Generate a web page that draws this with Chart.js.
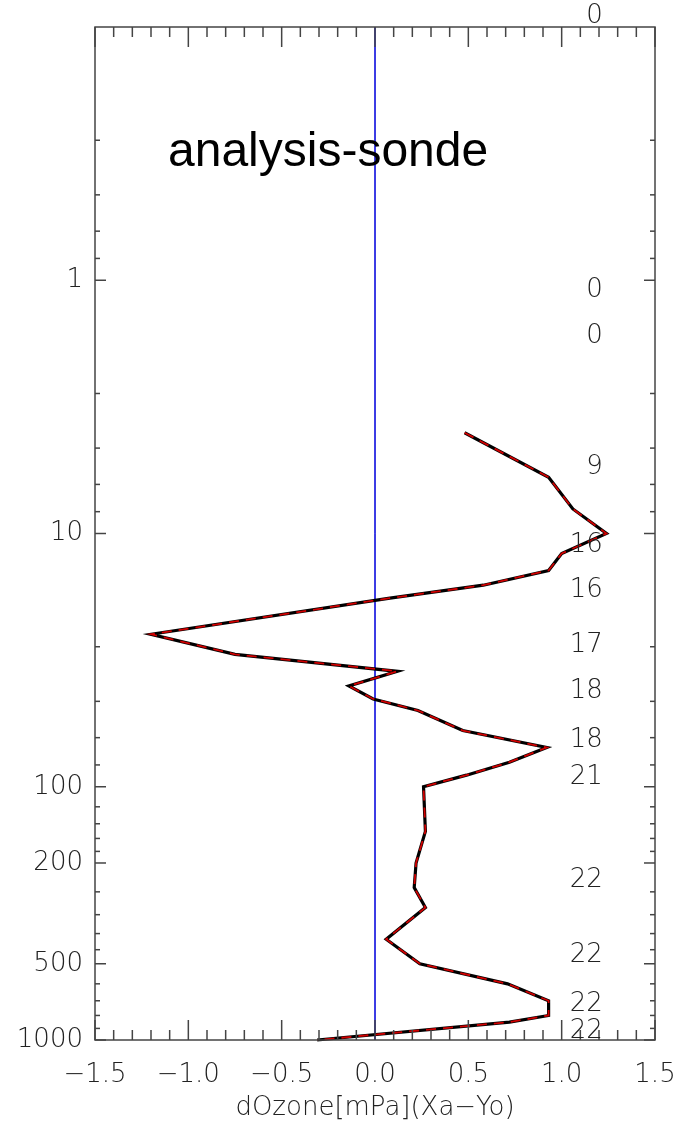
<!DOCTYPE html>
<html>
<head>
<meta charset="utf-8">
<script src="https://cdn.jsdelivr.net/npm/chart.js@4/dist/chart.umd.min.js"></script>
<style>
  html, body { margin: 0; padding: 0; background: #fff; }
  canvas { display: block; }
</style>
</head>
<body>
<canvas id="c" width="685" height="1126"></canvas>
<script>
/* профиль: давление [гПа] и разность озона analysis-sonde */
const pressure = [4, 6, 8, 10, 12, 14, 16, 18, 25, 30, 35, 40, 45, 50, 60, 70, 80, 90, 100,
                  150, 200, 250, 300, 400, 500, 600, 700, 800, 850, 1000];
const dOzone   = [0.48, 0.93, 1.06, 1.24, 1.00, 0.93, 0.58, 0.08, -1.20, -0.75, 0.12, -0.14, -0.01, 0.23,
                  0.47, 0.92, 0.72, 0.49, 0.26, 0.27, 0.22, 0.21, 0.27, 0.06, 0.24, 0.71, 0.93, 0.93, 0.72, -0.31];

/* число зондов на уровнях (подписи справа) */
const countLevels = [0.091, 1.1, 1.66, 5.5, 11.1, 16.7, 27.7, 41.8, 65.8, 92, 233, 461, 721, 921];
const counts      = [0, 0, 0, 9, 16, 16, 17, 18, 18, 21, 22, 22, 22, 22];

/* деления осей */
const yMajor = [1, 10, 100, 200, 500, 1000];
const yMinor = [0.28, 0.46, 0.64, 0.82, 2.8, 4.6, 6.4, 8.2, 28, 46, 64, 82,
                120, 140, 160, 180, 260, 320, 380, 440, 600, 700, 800, 900];
const xMajor = [-1.5, -1.0, -0.5, 0.0, 0.5, 1.0, 1.5];

const AXIS = '#444';
const TXT  = '#222';
const THIN = { family: '"DejaVu Sans", sans-serif', size: 26, weight: 200 };

const profile = pressure.map((p, i) => ({ x: dOzone[i], y: p }));

/* рамка, внутренние засечки, подписи */
const decor = {
  id: 'decor',
  afterDraw(chart) {
    const { ctx, chartArea: a, scales: { x, y } } = chart;
    ctx.save();
    ctx.strokeStyle = AXIS;
    ctx.lineWidth = 1.5;
    ctx.strokeRect(a.left, a.top, a.right - a.left, a.bottom - a.top);
    const line = (x1, y1, x2, y2) => { ctx.beginPath(); ctx.moveTo(x1, y1); ctx.lineTo(x2, y2); ctx.stroke(); };

    for (let k = -15; k <= 15; k++) {
      const px = x.getPixelForValue(k / 10);
      const len = k % 5 === 0 ? 20 : 10;
      line(px, a.bottom, px, a.bottom - len);
      line(px, a.top, px, a.top + len);
    }
    yMajor.forEach(v => {
      const py = y.getPixelForValue(v);
      line(a.left, py, a.left + 11, py);
      line(a.right, py, a.right - 11, py);
    });
    yMinor.forEach(v => {
      const py = y.getPixelForValue(v);
      line(a.left, py, a.left + 5, py);
      line(a.right, py, a.right - 5, py);
    });

    ctx.fillStyle = TXT;
    ctx.font = '200 26px "DejaVu Sans", sans-serif';
    ctx.textAlign = 'right';
    ctx.textBaseline = 'middle';
    const cx = x.getPixelForValue(1.22);
    countLevels.forEach((p, i) => ctx.fillText(String(counts[i]), cx, y.getPixelForValue(p)));

    ctx.fillStyle = '#000';
    ctx.font = '48px "Liberation Sans", Arial, sans-serif';
    ctx.textAlign = 'left';
    ctx.textBaseline = 'alphabetic';
    ctx.fillText('analysis-sonde', a.left + 73, a.top + 139);
    ctx.restore();
  }
};

new Chart(document.getElementById('c'), {
  type: 'scatter',
  data: {
    datasets: [
      { data: profile, showLine: true, borderColor: '#d00000', borderWidth: 1.8,
        borderDash: [10, 7], pointRadius: 0, clip: false },
      { data: profile, showLine: true, borderColor: '#000', borderWidth: 3.2,
        pointRadius: 0, clip: false },
      { data: [{ x: 0, y: 0.1 }, { x: 0, y: 1000 }], showLine: true,
        borderColor: '#2020e0', borderWidth: 1, pointRadius: 0 }
    ]
  },
  options: {
    responsive: false,
    animation: false,
    devicePixelRatio: 1,
    layout: { padding: { top: 27, right: 30, left: 0, bottom: 0 } },
    plugins: { legend: { display: false }, tooltip: { enabled: false } },
    scales: {
      x: {
        type: 'linear', min: -1.5, max: 1.5,
        afterFit: s => { s.height = 86; s.paddingLeft = 0; s.paddingRight = 0; },
        afterBuildTicks: s => { s.ticks = xMajor.map(v => ({ value: v })); },
        grid: { display: false, drawTicks: false },
        border: { display: false },
        ticks: {
          padding: 20, color: TXT, font: THIN, maxRotation: 0, autoSkip: false,
          callback: v => (v < 0 ? '\u2212' : '') + Math.abs(v).toFixed(1)
        },
        title: {
          display: true, text: 'dOzone[mPa](Xa\u2212Yo)', color: TXT, font: THIN,
          padding: { top: 0, bottom: 2 }
        }
      },
      y: {
        type: 'logarithmic', reverse: true, min: 0.1, max: 1000,
        afterFit: s => { s.width = 95; s.paddingTop = 0; s.paddingBottom = 0; },
        afterBuildTicks: s => { s.ticks = yMajor.map(v => ({ value: v })); },
        grid: { display: false, drawTicks: false },
        border: { display: false },
        ticks: { padding: 12, color: TXT, font: THIN, autoSkip: false, callback: v => String(v) }
      }
    }
  },
  plugins: [decor]
});
</script>
</body>
</html>
